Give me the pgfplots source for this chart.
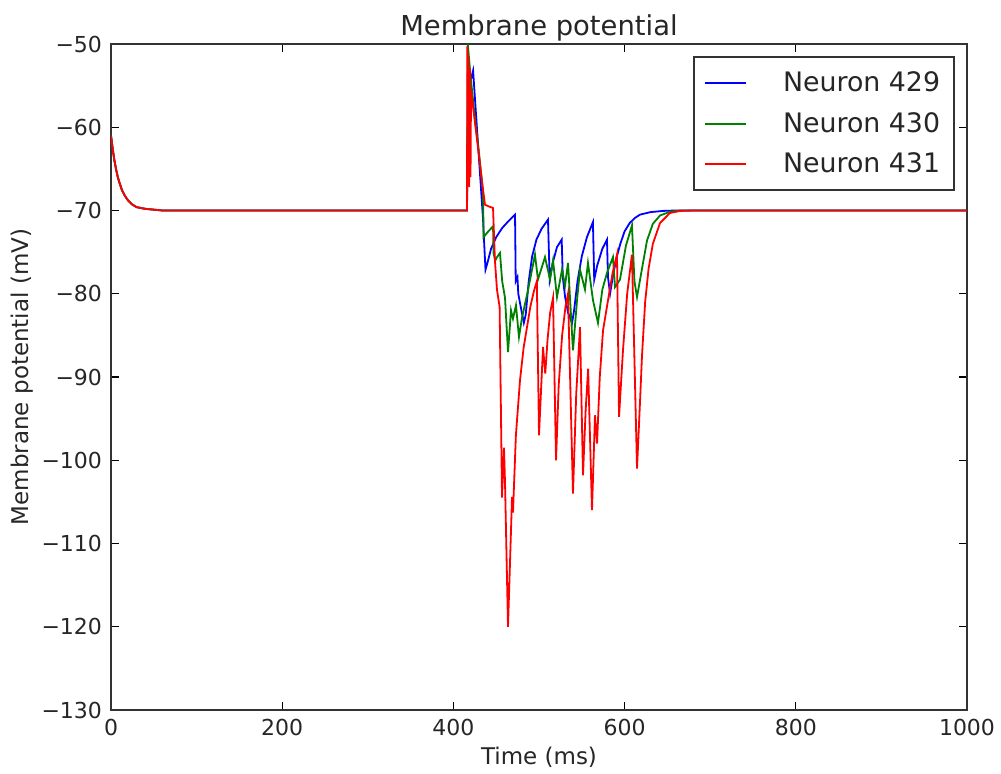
\documentclass[border=0pt]{standalone}
\usepackage{fontspec}
\setmainfont{DejaVu Sans}
\usepackage{pgfplots}
\pgfplotsset{compat=1.18}
\usepackage{pgfplotstable}

\pgfplotstableread{
t v
0 -61
2 -62.6
4 -64.0
6 -65.1
8 -66.0
10 -66.7
13 -67.6
16 -68.2
20 -68.8
25 -69.3
30 -69.6
35 -69.7
40 -69.8
50 -69.9
60 -70
415.9 -70
417 -57
420 -54.5
423 -53.2
434.6 -71
435.5 -73
437.5 -77.1
440 -76.2
444 -74.6
450 -73.2
457 -72.1
465 -71.2
472 -70.5
472.8 -78.5
474.8 -78.0
475.8 -80.0
478.5 -81.5
482.3 -83.5
484.5 -82.5
488 -78.5
492 -75.5
497 -73.5
503 -72.2
510.5 -71.1
512.5 -78.3
516 -76.3
521 -74.4
526.5 -73.5
527.8 -78.0
530.5 -80.4
534 -82.3
538.6 -83.5
541 -82
545 -78.5
550 -75.5
556 -73.2
563 -71.4
564.5 -78.3
568 -76.6
574 -74.6
579.4 -73.5
580.6 -78
583 -80.0
587 -77.5
591 -75.5
595 -74.0
600 -72.5
606 -71.5
612 -70.9
618 -70.5
630 -70.2
645 -70.05
660 -70
1000 -70
}\neuronA

\pgfplotstableread{
t v
0 -61
2 -62.6
4 -64.0
6 -65.1
8 -66.0
10 -66.7
13 -67.6
16 -68.2
20 -68.8
25 -69.3
30 -69.6
35 -69.7
40 -69.8
50 -69.9
60 -70
415.9 -70
416.8 -50
420 -53.8
425 -58.8
430 -63.2
434.6 -67.8
435.3 -73.2
440 -72.6
446.3 -71.9
447 -75.2
449 -76
451 -75.6
454.4 -75.1
457 -78.5
460.3 -80.5
463.8 -87
467.3 -82
469.6 -83
473.1 -81.4
476.6 -85.2
480.1 -82.9
487.1 -79.6
495.3 -75.3
498.8 -78.3
507 -75.6
512.9 -78.3
516.4 -76
521 -80.4
526.9 -77.1
530.4 -79
533.9 -76.3
539.7 -86.8
544.4 -80.8
547.9 -77.1
553.7 -79.5
557.2 -76.3
563.1 -80.8
568.9 -83.5
574 -79.5
579.4 -77.5
586.4 -75.6
588.8 -79.2
594.6 -78.3
601.6 -74.2
608.6 -71.8
611.5 -78.5
614.5 -80.4
620.3 -77
626.2 -73.6
633 -71.6
641.4 -70.6
653 -70.15
665 -70
1000 -70
}\neuronB

\pgfplotstableread{
t v
0 -61
2 -62.6
4 -64.0
6 -65.1
8 -66.0
10 -66.7
13 -67.6
16 -68.2
20 -68.8
25 -69.3
30 -69.6
35 -69.7
40 -69.8
50 -69.9
60 -70
415.9 -70
416.3 -50.3
417.0 -67
417.7 -51.5
418.4 -67.2
419.2 -53
420.0 -66
420.6 -55.5
425 -59.3
430 -63.5
434.6 -67.5
436.9 -69.3
441 -69.5
446.3 -69.7
448.5 -76
450.9 -79.5
454.0 -81.6
456.8 -104.5
459.1 -98.5
460.3 -102.7
463.8 -120
468.5 -104.4
469.6 -106.3
473 -97
477.8 -90.4
482 -86.5
486 -84
490 -81.5
494 -79.7
497.5 -78.5
500.0 -97
504.7 -86.4
507.3 -89.6
510 -85.5
513 -82.3
516.4 -80.5
519.9 -100
523 -91
527 -85
531 -81.5
533.9 -80
539.7 -104
543.5 -92
547.9 -84
551.4 -101.8
554.5 -94
557.4 -89
561.9 -106
565.4 -94.6
567.8 -98
571 -90
574.8 -84.4
580.6 -80.8
586 -77.5
591.1 -75.3
593.5 -94.8
598.1 -86.8
603 -80
608.6 -75.3
614.5 -101
618 -93
620.3 -87.5
624 -81
628 -77
633 -74
641.4 -71.5
653 -70.3
665 -70.05
680 -70
1000 -70
}\neuronC

\definecolor{mblue}{rgb}{0,0,1}
\definecolor{mgreen}{rgb}{0,0.5,0}
\definecolor{mred}{rgb}{1,0,0}

\begin{document}
\begin{tikzpicture}
\path[use as bounding box] (-55.5pt,-32pt) rectangle (445pt,355pt);
\begin{axis}[
  at={(0,0)}, anchor=south west,
  scale only axis,
  width=428pt, height=333pt,
  xmin=0, xmax=1000, ymin=-130, ymax=-50,
  xtick={0,200,400,600,800,1000},
  xticklabels={0,200,400,600,800,1000},
  ytick={-130,-120,-110,-100,-90,-80,-70,-60,-50},
  yticklabels={−130,−120,−110,−100,−90,−80,−70,−60,−50},
  tick align=inside,
  major tick length=4pt,
  every tick/.style={black, line width=0.6pt},
  axis line style={line width=0.9pt, black!80},
  tick label style={font=\fontsize{11}{13}\selectfont, text=black!85},
  xticklabel style={yshift=-1pt},
  yticklabel style={xshift=-1pt},
  title={Membrane potential},
  title style={font=\fontsize{13.7}{16}\selectfont, text=black!85, at={(0.5,1)}, anchor=base, yshift=-2pt},
  xlabel={Time (ms)},
  ylabel={Membrane potential (mV)},
  label style={font=\fontsize{11.5}{14}\selectfont, text=black!85},
  xlabel style={at={(0.5,0)}, anchor=center, yshift=-23.5pt},
  ylabel style={at={(0,0.5)}, anchor=center, yshift=44.5pt},
  legend style={at={(0.986,0.982)}, anchor=north east, draw=black!80, line width=0.9pt,
    font=\fontsize{13.4}{16}\selectfont, text=black!85, inner xsep=5pt, inner ysep=5.5pt,
    row sep=4.7pt, cells={anchor=west},
    /tikz/every odd column/.append style={column sep=16pt}},
  legend image code/.code={\draw[#1] (3pt,0pt) -- (23.5pt,0pt);},
  clip=true,
]
\addplot[mblue, line width=0.9pt] table[x=t, y=v] {\neuronA};
\addlegendentry{Neuron 429}
\addplot[mgreen, line width=0.9pt] table[x=t, y=v] {\neuronB};
\addlegendentry{Neuron 430}
\addplot[mred, line width=0.9pt] table[x=t, y=v] {\neuronC};
\addlegendentry{Neuron 431}
\end{axis}
\end{tikzpicture}
\end{document}
